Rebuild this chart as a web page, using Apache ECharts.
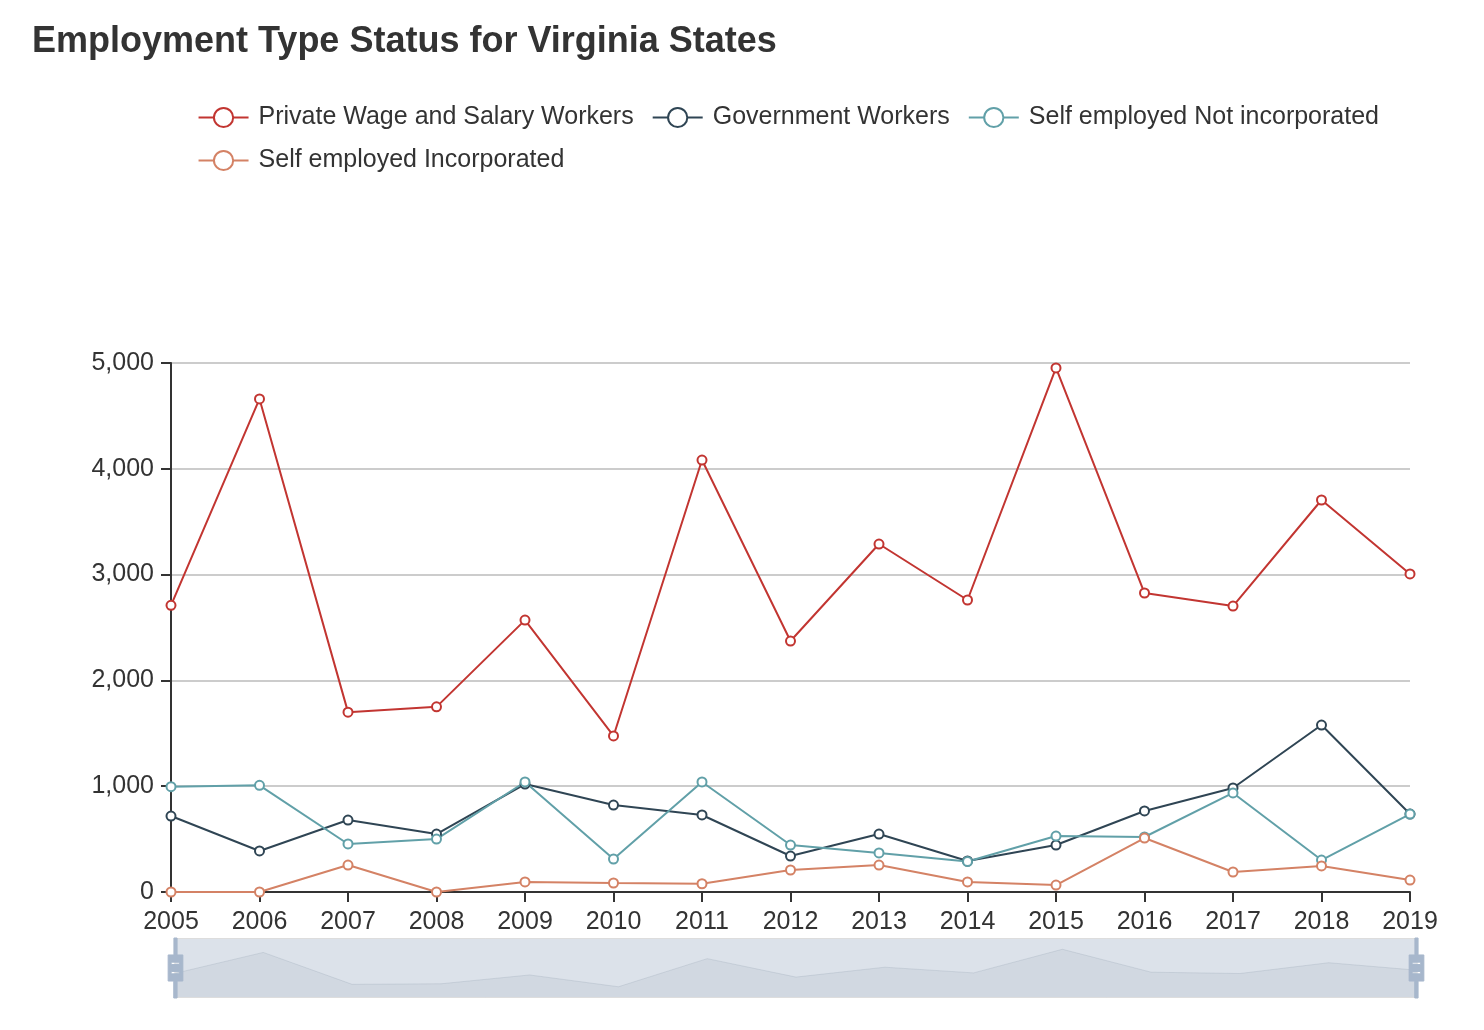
<!DOCTYPE html>
<html>
<head>
<meta charset="utf-8">
<script src="https://cdn.jsdelivr.net/npm/echarts@6/dist/echarts.min.js"></script>
<style>
html,body{margin:0;padding:0;background:#fff;}
#chart{width:1484px;height:1030px;}
</style>
</head>
<body>
<div id="chart"></div>
<script>
const years = ['2005','2006','2007','2008','2009','2010','2011','2012','2013','2014','2015','2016','2017','2018','2019'];
const privateWage = [2710, 4660, 1700, 1750, 2570, 1475, 4083, 2372, 3289, 2760, 4953, 2826, 2703, 3705, 3006];
const government = [718, 388, 680, 548, 1020, 822, 728, 340, 548, 293, 444, 766, 983, 1578, 737];
const selfNotInc = [995, 1008, 454, 500, 1040, 312, 1040, 444, 369, 288, 529, 520, 936, 302, 737];
const selfInc = [0, 0, 255, 0, 95, 85, 78, 208, 255, 95, 66, 510, 189, 246, 113];
const seriesNames = ['Private Wage and Salary Workers', 'Government Workers', 'Self employed Not incorporated', 'Self employed Incorporated'];
const colors = ['#c23531', '#2f4554', '#61a0a8', '#d48265'];

const chart = echarts.init(document.getElementById('chart'));
const font = 'Helvetica, "Liberation Sans", Arial, sans-serif';
const allData = [privateWage, government, selfNotInc, selfInc];
chart.setOption({
  animation: false,
  color: colors,
  textStyle: {fontFamily: font},
  title: {
    text: 'Employment Type Status for Virginia States',
    left: 27, top: 19,
    textStyle: {fontSize: 36, fontWeight: 'bold', color: '#333', fontFamily: font}
  },
  legend: {
    right: 100, top: 100, width: 1200,
    itemWidth: 50, itemHeight: 24, itemGap: 18,
    textStyle: {fontSize: 25, color: '#333', padding: [0, 0, 0, 5]},
    data: seriesNames
  },
  grid: {left: 171, right: 74, top: 363, bottom: 138, containLabel: false},
  xAxis: {
    type: 'category', boundaryGap: false, data: years,
    axisLine: {lineStyle: {color: '#333', width: 2}},
    axisTick: {show: true, length: 10, lineStyle: {color: '#333', width: 2}},
    axisLabel: {fontSize: 25, color: '#333', margin: 18}
  },
  yAxis: {
    type: 'value', min: 0, max: 5000, interval: 1000,
    axisLine: {show: true, lineStyle: {color: '#333', width: 2}},
    axisTick: {show: true, length: 10, lineStyle: {color: '#333', width: 2}},
    axisLabel: {fontSize: 25, color: '#333', margin: 17},
    splitLine: {lineStyle: {color: '#ccc', width: 2}}
  },
  dataZoom: [{
    type: 'slider', xAxisIndex: 0, start: 0, end: 100,
    left: 172, right: 69, bottom: 32, height: 60,
    showDetail: false, brushSelect: false, moveHandleSize: 0,
    backgroundColor: 'rgba(47,69,84,0)',
    borderColor: '#ddd',
    fillerColor: 'rgba(167,183,203,0.4)',
    handleIcon: 'M8.2,13.6V3.9H6.3v9.7H3.1v14.9h3.3v9.7h1.8v-9.7h3.3V13.6H8.2z M9.7,24.4H4.8v-1.4h4.9V24.4z M9.7,19.1H4.8v-1.4h4.9V19.1z',
    handleSize: '100%',
    handleStyle: {color: '#a7b7cc', borderColor: '#a7b7cc'},
    dataBackground: {
      lineStyle: {color: '#2f4554', opacity: 0.3, width: 0.5},
      areaStyle: {color: 'rgba(47,69,84,0.3)', opacity: 0.3}
    },
    selectedDataBackground: {
      lineStyle: {color: '#2f4554', opacity: 0.3, width: 0.5},
      areaStyle: {color: 'rgba(47,69,84,0.3)', opacity: 0.3}
    }
  }],
  series: seriesNames.map((n, i) => ({
    name: n, type: 'line', data: allData[i],
    symbol: 'emptyCircle', symbolSize: 9,
    lineStyle: {width: 2},
    itemStyle: {borderWidth: 2}
  }))
});
</script>
</body>
</html>
